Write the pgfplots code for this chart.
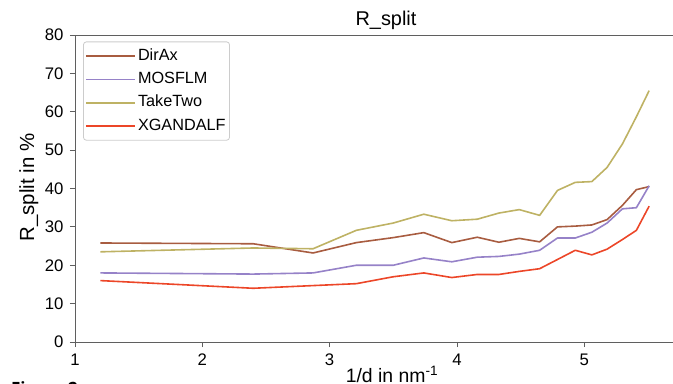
\documentclass[border=0pt]{standalone}
\usepackage{pgfplots}
\pgfplotsset{compat=1.18}
\usepackage{fontspec}
\setmainfont{Liberation Sans}
\newfontfamily\figfont{Open Sans}
\definecolor{cDirAx}{RGB}{168,92,64}
\definecolor{cMOSFLM}{RGB}{150,130,200}
\definecolor{cTakeTwo}{RGB}{190,178,100}
\definecolor{cXGANDALF}{RGB}{236,70,40}
\definecolor{spine}{RGB}{95,95,95}
\begin{document}
\begin{tikzpicture}
\begin{axis}[
  at={(75bp,42bp)}, anchor=south west,
  scale only axis, width=636.5bp, height=307bp,
  xmin=1, xmax=6, ymin=0, ymax=80,
  xtick={1,2,3,4,5}, ytick={0,10,20,30,40,50,60,70,80},
  tick align=outside, xtick pos=bottom, ytick pos=left,
  major tick length=5bp,
  tick style={spine, line width=0.8bp},
  axis line style={spine, line width=1bp},
  ticklabel style={font=\fontsize{16.8}{19}\selectfont},
  xticklabel style={yshift=-3bp},
  yticklabel style={xshift=-3bp},
  /pgf/number format/assume math mode=true,
  legend cell align=left,
  legend style={at={(axis description cs:0.0126,0.979)}, anchor=north west,
    draw=black!20, rounded corners=3bp, line width=0.8bp,
    font=\fontsize{16.3}{19}\selectfont,
    row sep=3.8bp, inner xsep=2bp, inner ysep=4.5bp,
    nodes={text height=12bp, text depth=3.5bp, inner ysep=2bp, inner xsep=2bp}},
  legend image code/.code={\path (-2bp,0bp) -- (47bp,0bp); \draw[#1, line width=1.8bp] (0bp,0bp) -- (34bp,0bp);},
  every axis plot/.append style={line width=1.6bp, line join=round},
]
\addplot[cDirAx] coordinates {
(1.20,25.8) (2.40,25.6) (2.87,23.2) (3.21,25.9) (3.50,27.2) (3.74,28.5)
(3.96,25.9) (4.16,27.3) (4.33,26.0) (4.49,27.0) (4.65,26.1) (4.79,30.0)
(4.93,30.2) (5.06,30.5) (5.18,31.9) (5.30,35.6) (5.41,39.7) (5.51,40.5)};
\addlegendentry{DirAx}
\addplot[cMOSFLM] coordinates {
(1.20,18.0) (2.40,17.7) (2.87,18.0) (3.21,20.0) (3.50,20.0) (3.74,21.9)
(3.96,20.9) (4.16,22.1) (4.33,22.3) (4.49,22.9) (4.65,23.9) (4.79,27.1)
(4.93,27.1) (5.06,28.6) (5.18,31.0) (5.30,34.7) (5.41,35.0) (5.51,40.7)};
\addlegendentry{MOSFLM}
\addplot[cTakeTwo] coordinates {
(1.20,23.5) (2.40,24.5) (2.87,24.3) (3.21,29.1) (3.50,31.0) (3.74,33.3)
(3.96,31.6) (4.16,32.0) (4.33,33.6) (4.49,34.5) (4.65,33.0) (4.79,39.5)
(4.93,41.6) (5.06,41.8) (5.18,45.5) (5.30,51.6) (5.41,58.7) (5.51,65.5)};
\addlegendentry{TakeTwo}
\addplot[cXGANDALF] coordinates {
(1.20,16.0) (2.40,14.0) (2.87,14.7) (3.21,15.2) (3.50,17.0) (3.74,18.0)
(3.96,16.8) (4.16,17.6) (4.33,17.6) (4.49,18.4) (4.65,19.1) (4.79,21.5)
(4.93,23.9) (5.06,22.7) (5.18,24.2) (5.30,26.7) (5.41,29.1) (5.51,35.4)};
\addlegendentry{XGANDALF}
\end{axis}
\node[anchor=base, font=\fontsize{20}{24}\selectfont] at (386bp,358bp) {R\_split};
\node[anchor=base, font=\fontsize{19.5}{23}\selectfont] at (392bp,1.5bp) {1/d in nm\textsuperscript{-1}};
\node[rotate=90, anchor=base, font=\fontsize{20.5}{24}\selectfont] at (34bp,196.5bp) {R\_split in \%};
\node[anchor=north west, inner sep=0pt, font=\figfont\bfseries\fontsize{17}{20}\selectfont] at (11bp,3bp) {Figure 2};
\pgfresetboundingbox
\useasboundingbox (0bp,0bp) rectangle (673bp,384bp);
\end{tikzpicture}
\end{document}
